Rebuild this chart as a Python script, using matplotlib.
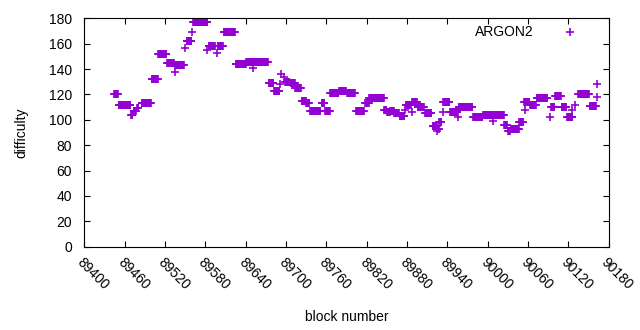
import numpy as np
import matplotlib
matplotlib.use("Agg")
import matplotlib.pyplot as plt

# difficulty per block, stored as runs of constant value (first block, last block, value)
run_first = [89444, 89451, 89469, 89473, 89478, 89485, 89500, 89510, 89523, 89534,
             89535, 89549, 89552, 89560, 89562, 89582, 89585, 89597, 89598, 89607,
             89625, 89641, 89651, 89674, 89682, 89691, 89693, 89697, 89699, 89707,
             89714, 89723, 89730, 89736, 89753, 89758, 89766, 89779, 89791, 89804,
             89818, 89824, 89846, 89850, 89855, 89861, 89869, 89877, 89878, 89887,
             89888, 89896, 89907, 89918, 89925, 89926, 89928, 89933, 89934, 89944,
             89956, 89957, 89978, 89993, 90008, 90025, 90030, 90034, 90047, 90054,
             90056, 90063, 90073, 90092, 90094, 90100, 90110, 90118, 90125, 90130,
             90135, 90152, 90162, 90163]
run_last = [89450, 89468, 89471, 89476, 89480, 89499, 89509, 89522, 89533, 89534,
            89548, 89549, 89559, 89560, 89583, 89582, 89594, 89597, 89606, 89624,
            89640, 89673, 89651, 89681, 89690, 89691, 89693, 89697, 89705, 89713,
            89722, 89729, 89734, 89751, 89757, 89765, 89778, 89789, 89802, 89816,
            89823, 89845, 89849, 89854, 89860, 89868, 89876, 89877, 89886, 89887,
            89895, 89905, 89916, 89924, 89925, 89927, 89931, 89933, 89943, 89955,
            89956, 89977, 89992, 90024, 90008, 90029, 90033, 90046, 90053, 90062,
            90056, 90072, 90089, 90092, 90099, 90109, 90117, 90126, 90125, 90130,
            90151, 90161, 90162, 90163]
run_value = [120, 112, 104, 107, 109, 113, 132, 152, 145, 138,
             143, 157, 162, 169, 177, 155, 158, 153, 158, 169,
             144, 146, 141, 129, 123, 128, 136, 134, 130, 129,
             125, 115, 113, 107, 113, 107, 121, 123, 121, 107,
             113, 117, 108, 106, 107, 105, 103, 108, 112, 106,
             114, 110, 105, 95, 91, 93, 98, 106, 114, 106,
             102, 110, 102, 104, 99, 96, 91, 93, 98, 114,
             108, 112, 117, 102, 110, 119, 110, 102, 108, 112,
             120, 111, 118, 128]

blocks = []
diff = []
for a, b, v in zip(run_first, run_last, run_value):
    for blk in range(a, b + 1):
        blocks.append(blk)
        diff.append(v)

plt.rcParams['font.family'] = ['Liberation Sans', 'DejaVu Sans']
plt.rcParams['font.size'] = 10

fig = plt.figure(figsize=(6.4, 3.3), dpi=100)
ax = fig.add_axes([0.132, 0.253, 0.819, 0.691])

ax.plot(blocks, diff, linestyle='none', marker='+', color='#9400D3',
        markersize=5.5, markeredgewidth=1.2, label='ARGON2')

ax.set_xlim(89400, 90180)
ax.set_ylim(0, 180)
ax.set_xticks(np.arange(89400, 90181, 60))
ax.set_yticks(np.arange(0, 181, 20))
ax.tick_params(direction='in', top=True, right=True, length=4, width=0.8)
ax.tick_params(axis='x', pad=6)
ax.tick_params(axis='y', pad=9)
for lbl in ax.get_xticklabels():
    lbl.set_rotation(-45)
    lbl.set_ha('left')
    lbl.set_va('top')
    lbl.set_rotation_mode('anchor')

ax.set_xlabel('block number', labelpad=13)
ax.set_ylabel('difficulty', labelpad=15)

ax.legend(loc='upper right', frameon=False, markerfirst=False,
          handlelength=4.5, handletextpad=0.4, borderaxespad=0.1, fontsize=10)

fig.savefig('out.png', dpi=100)
